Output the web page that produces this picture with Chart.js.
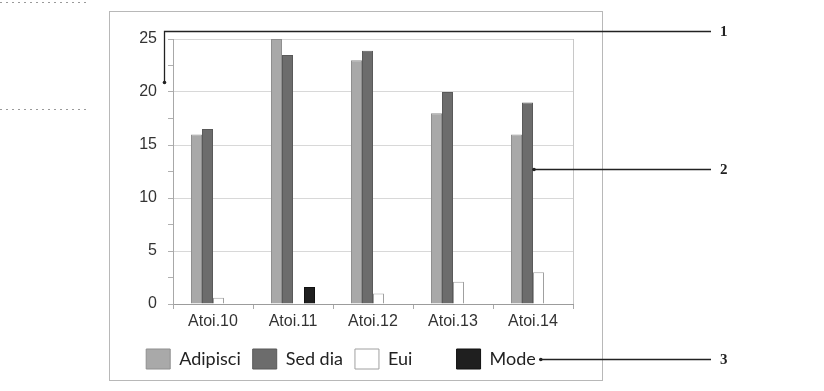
<!DOCTYPE html>
<html>
<head>
<meta charset="utf-8">
<script src="https://cdn.jsdelivr.net/npm/chart.js@4"></script>
<style>
  html, body { margin: 0; padding: 0; background: #fff; }
  #wrap { width: 824px; height: 391px; }
</style>
</head>
<body>
<div id="wrap"><canvas id="barChart" width="824" height="391"></canvas></div>
<script>
// данные
const categories = ['Atoi.10', 'Atoi.11', 'Atoi.12', 'Atoi.13', 'Atoi.14'];
const adipisci = [16, 25, 23, 18, 16];
const sedDia = [16.5, 23.5, 23.9, 20, 19];
const eui = [0.6, null, 1, 2.1, 3];
const mode = [null, 1.6, null, null, null];
const seriesNames = ['Adipisci', 'Sed dia', 'Eui', 'Mode'];
const yTicks = [0, 5, 10, 15, 20, 25];

const fill = ['#a9a9a9', '#6c6c6c', '#ffffff', '#1f1f1f'];
const stroke = ['#8f8f8f', '#595959', '#a0a0a0', '#111111'];

// рамка, выноски 1-2-3 и пунктир слева
const decorPlugin = {
    id: 'decor',
    beforeDraw(chart) {
        const ctx = chart.ctx;
        ctx.save();
        ctx.fillStyle = '#fff';
        ctx.fillRect(0, 0, chart.width, chart.height);
        ctx.strokeStyle = '#b8b8b8';
        ctx.lineWidth = 1;
        ctx.strokeRect(109.5, 11.5, 493, 369);
        // пунктир слева сверху
        ctx.strokeStyle = '#9a9a9a';
        ctx.setLineDash([2, 4]);
        ctx.beginPath();
        ctx.moveTo(0, 2.5); ctx.lineTo(87, 2.5);
        ctx.moveTo(0, 109.5); ctx.lineTo(87, 109.5);
        ctx.stroke();
        ctx.restore();
    },
    afterDraw(chart) {
        const ctx = chart.ctx;
        const area = chart.chartArea;
        const y = chart.scales.y;
        ctx.save();
        // правая граница области построения
        ctx.strokeStyle = '#c8c8c8';
        ctx.lineWidth = 1;
        ctx.beginPath();
        ctx.moveTo(Math.round(area.right) + 0.5, area.top);
        ctx.lineTo(Math.round(area.right) + 0.5, area.bottom);
        ctx.stroke();

        const endX = 711;
        ctx.strokeStyle = '#222';
        ctx.fillStyle = '#222';
        ctx.lineWidth = 1.3;

        // 1: к оси Y
        const y1 = 31.5;
        const x1 = area.left - 8.5;
        const yEnd1 = y.getPixelForValue(20.9);
        ctx.beginPath();
        ctx.moveTo(endX, y1); ctx.lineTo(x1, y1); ctx.lineTo(x1, yEnd1);
        ctx.stroke();
        ctx.beginPath(); ctx.arc(x1, yEnd1, 1.8, 0, Math.PI * 2); ctx.fill();

        // 2: к столбцу Sed dia у Atoi.14
        const bar = chart.getDatasetMeta(1).data[4];
        const x2 = bar.x + bar.width / 2 + 1;
        const y2 = Math.round(y.getPixelForValue(12.7)) + 0.5;
        ctx.beginPath(); ctx.moveTo(endX, y2); ctx.lineTo(x2, y2); ctx.stroke();
        ctx.beginPath(); ctx.arc(x2, y2, 1.8, 0, Math.PI * 2); ctx.fill();

        // 3: к легенде Mode
        const hb = chart.legend.legendHitBoxes[3];
        const x3 = hb.left + hb.width + 5;
        const y3 = Math.round(hb.top + hb.height / 2) + 0.5;
        ctx.beginPath(); ctx.moveTo(endX, y3); ctx.lineTo(x3, y3); ctx.stroke();
        ctx.beginPath(); ctx.arc(x3, y3, 1.8, 0, Math.PI * 2); ctx.fill();

        ctx.font = 'bold 15px "Liberation Serif"';
        ctx.textAlign = 'left';
        ctx.textBaseline = 'middle';
        ctx.fillText('1', 720, y1 + 1);
        ctx.fillText('2', 720, y2 + 1);
        ctx.fillText('3', 720, y3 + 1);
        ctx.restore();
    }
};

const datasets = [adipisci, sedDia, eui, mode].map((values, i) => ({
    label: seriesNames[i],
    data: values,
    backgroundColor: fill[i],
    borderColor: stroke[i],
    borderWidth: 1,
    borderSkipped: 'start',
    categoryPercentage: 0.55,
    barPercentage: 1.0
}));

const ctx = document.getElementById('barChart').getContext('2d');
const barChart = new Chart(ctx, {
    type: 'bar',
    data: { labels: categories, datasets: datasets },
    plugins: [decorPlugin],
    options: {
        responsive: false,
        animation: false,
        events: [],
        layout: { padding: { left: 109, right: 251, top: 39, bottom: 12 } },
        scales: {
            x: {
                grid: { offset: true, drawOnChartArea: false, tickLength: 5, tickColor: '#a8a8a8' },
                border: { color: '#9c9c9c' },
                ticks: { color: '#333', font: { family: '"Liberation Sans", Arial', size: 16 }, padding: 3 },
                afterFit(scale) { scale.height = 33; }
            },
            y: {
                min: 0,
                max: 25,
                grid: {
                    color: c => (yTicks.includes(c.tick.value) ? '#d8d8d8' : 'transparent'),
                    tickColor: '#b0b0b0',
                    tickLength: 5
                },
                border: { color: '#a8a8a8' },
                ticks: {
                    stepSize: 2.5,
                    autoSkip: false,
                    color: '#333',
                    padding: 11,
                    font: { family: '"Liberation Sans", Arial', size: 16 },
                    callback: v => (yTicks.includes(v) ? v : '')
                },
                afterFit(scale) { scale.width = 64; }
            }
        },
        plugins: {
            legend: {
                position: 'bottom',
                labels: {
                    boxWidth: 24,
                    boxHeight: 20,
                    padding: 12,
                    color: '#222',
                    font: { family: 'Lato', size: 18 },
                    generateLabels(chart) {
                        return chart.data.datasets.map((ds, i) => ({
                            text: i === 2 ? ds.label + '       ' : ds.label,
                            fillStyle: ds.backgroundColor,
                            strokeStyle: ds.borderColor,
                            lineWidth: 1,
                            fontColor: '#222',
                            datasetIndex: i
                        }));
                    }
                }
            },
            tooltip: { enabled: false }
        }
    }
});
</script>
</body>
</html>
